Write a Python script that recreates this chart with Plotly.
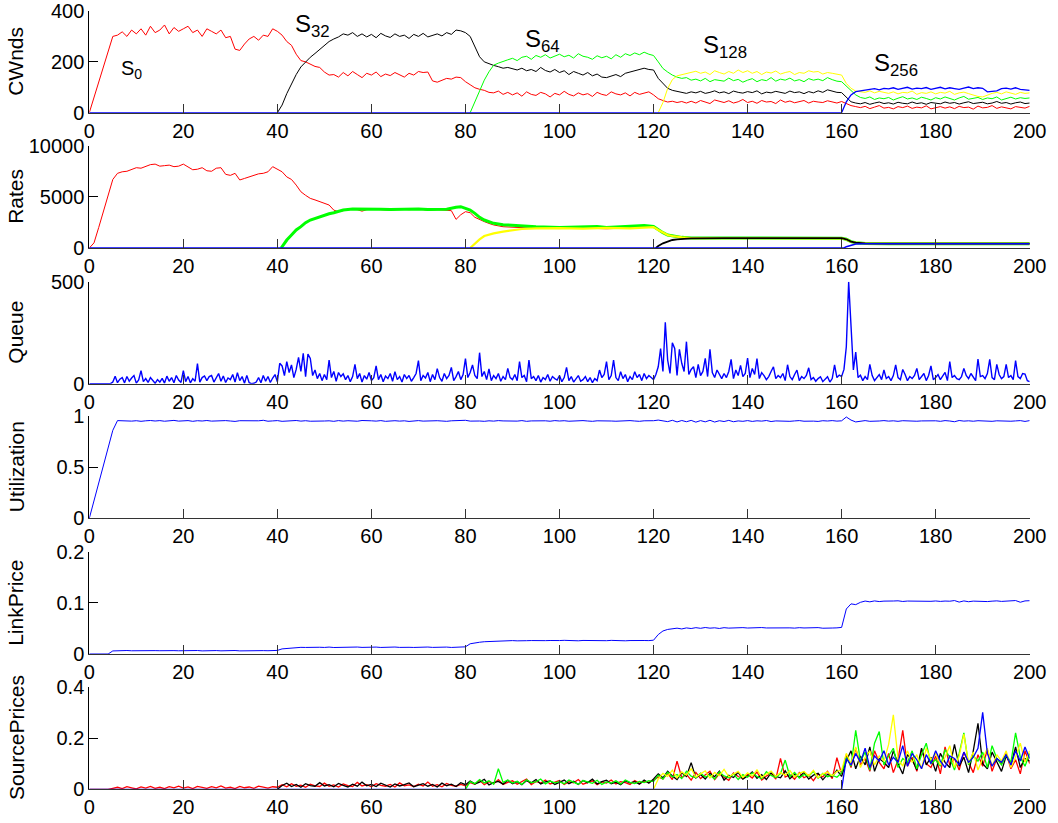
import plotly.graph_objects as go

# ---------------- DATA ----------------
# Panel 1: congestion windows, sampled every 1 s
cwnd_red_start = 0
cwnd_red = [
    0, 60, 120, 180, 240, 300, 305, 318, 300, 325,
    310, 330, 305, 340, 315, 325, 345, 310, 335, 320,
    330, 340, 315, 325, 300, 330, 320, 310, 325, 295,
    300, 250, 245, 270, 290, 300, 285, 305, 300, 330,
    320, 305, 280, 265, 230, 205, 200, 190, 182, 178,
    160, 148, 150, 140, 158, 145, 162, 150, 138, 155,
    148, 160, 142, 152, 146, 158, 150, 140, 155, 148,
    162, 158, 160, 125, 120, 128, 135, 132, 140, 138,
    122, 110, 98, 92, 88, 80, 78, 85, 72, 80,
    70, 78, 65, 82, 72, 68, 80, 74, 62, 76,
    70, 84, 72, 66, 78, 70, 75, 64, 80, 72,
    68, 82, 74, 70, 78, 66, 80, 72, 76, 82,
    70, 55, 48, 42, 45, 40, 44, 38, 45, 38,
    48, 42, 36, 50, 44, 40, 47, 38, 43, 52,
    40, 45, 37, 48, 42, 44, 36, 50, 41, 46,
    39, 44, 48, 38, 45, 42, 40, 47, 43, 38,
    44, 35, 28, 24, 20, 25, 16, 22, 28, 18,
    21, 15, 24, 20, 26, 17, 22, 19, 27, 15,
    21, 24, 18, 23, 16, 25, 20, 22, 14, 26,
    19, 21, 28, 17, 23, 20, 15, 24, 22, 18,
    25,
]
cwnd_black_start = 40
cwnd_black = [
    0, 30, 75, 115, 150, 180, 200, 218, 233, 250,
    265, 280, 290, 298, 310, 305, 315, 300, 310, 298,
    308, 295, 312, 302, 296, 310, 300, 305, 292, 308,
    300, 312, 298, 305, 310, 302, 315, 308, 325, 322,
    315, 300, 260, 220, 200, 192, 186, 181, 175, 178,
    172, 168, 175, 165, 170, 162, 178, 166, 160, 170,
    158, 165, 150, 162, 155, 148, 158, 145, 152, 140,
    138, 145, 150, 142, 155, 160, 165, 172, 175, 170,
    168, 135, 115, 96, 88, 83, 80, 76, 82, 78,
    84, 76, 80, 86, 78, 82, 75, 85, 80, 77,
    83, 79, 86, 74, 81, 78, 84, 80, 76, 85,
    79, 82, 75, 83, 78, 86, 80, 90, 84, 80,
    79, 60, 43, 38, 35, 40, 33, 38, 42, 36,
    39, 34, 41, 37, 35, 42, 36, 39, 33, 40,
    38, 35, 42, 37, 40, 34, 39, 43, 36, 38,
    41, 35, 38, 44, 37, 40, 34, 39, 42, 36,
    38,
]
cwnd_green_start = 81
cwnd_green = [
    0, 45, 89, 128, 161, 187, 195, 200, 208,
    214, 205, 218, 222, 210, 225, 218, 228, 215, 222,
    230, 220, 226, 215, 232, 222, 218, 210, 224, 216,
    222, 212, 228, 218, 232, 225, 235, 228, 238, 230,
    225, 200, 174, 160, 148, 140, 135, 138, 128, 132,
    125, 135, 122, 130, 128, 124, 136, 126, 131, 120,
    128, 134, 122, 130, 126, 138, 124, 132, 128, 136,
    125, 130, 122, 134, 128, 132, 126, 138, 130, 124,
    122, 105, 89, 70, 60, 56, 62, 52, 58, 55,
    60, 50, 57, 63, 54, 58, 52, 61, 56, 50,
    59, 54, 62, 55, 50, 58, 64, 53, 57, 60,
    52, 58, 55, 62, 50, 57, 61, 54, 59, 56,
    58,
]
cwnd_yellow_start = 121
cwnd_yellow = [
    0, 40, 95, 130, 145, 150, 155, 158, 163,
    155, 160, 150, 165, 158, 152, 162, 155, 168, 158,
    165, 155, 162, 150, 160, 156, 164, 152, 158, 162,
    150, 158, 155, 165, 160, 162, 152, 158, 155, 150,
    148, 115, 96, 85, 82, 80, 86, 78, 84, 80,
    76, 82, 74, 80, 78, 85, 72, 79, 76, 82,
    74, 80, 77, 84, 72, 78, 81, 75, 68, 64,
    62, 70, 76, 80, 74, 82, 78, 72, 80, 76,
    78,
]
cwnd_blue_start = 0
cwnd_blue = [0] * 161 + [
    43, 70, 83, 86, 89, 92, 95, 90, 96,
    94, 98, 92, 96, 100, 93, 97, 95, 99, 92,
    96, 100, 94, 98, 95, 92, 97, 101, 95, 98,
    96, 82, 84, 86, 95, 97, 93, 98, 92, 90,
    88,
]

# Panel 2: rates (breakpoints)
rate_red_t = [0, 1, 2, 3, 4, 5, 6, 7, 8, 9, 10, 11, 12, 13, 14, 15, 16, 17, 18, 19, 20,
              21, 22, 23, 24, 25, 26, 27, 28, 29, 30, 31, 32, 33, 34, 35, 36, 37, 38, 39, 40,
              41, 42, 43, 44, 45, 46, 47, 48, 49, 50, 51, 52, 53, 54, 55, 56, 57, 58, 59, 60,
              62, 64, 66, 68, 70, 72, 74, 76, 77, 78, 79, 80, 81, 82, 83, 84, 85, 86, 88, 90,
              92, 95, 100, 105, 110, 115, 118, 120, 121, 122, 123, 124, 125, 126, 128, 135,
              140, 145, 150, 155, 160, 161, 162, 163, 165, 170, 180, 190, 200]
rate_red = [0, 500, 2000, 3600, 5200, 6700, 7300, 7450, 7500, 7650, 7850, 7800, 7950, 8150,
            8200, 8000, 8050, 8100, 7950, 8000, 8200, 7950, 7650, 7700, 7850, 7550, 7500, 7800,
            7850, 7200, 7100, 7300, 6650, 6800, 6950, 7100, 7250, 7300, 7450, 7950, 7700, 7450,
            6950, 6700, 6150, 5500, 5150, 4850, 4700, 4550, 4400, 4200, 3700, 3550, 3650, 3750,
            3800, 3750, 3600, 3750, 3800, 3750, 3700, 3800, 3750, 3800, 3700, 3750, 3700, 3650,
            2800, 3250, 3550, 3450, 3000, 2750, 2580, 2400, 2250, 2080, 2020, 1950, 1920, 1900,
            1950, 1880, 1950, 2000, 2050, 1780, 1480, 1250, 1150, 1080, 1020, 960, 940, 950,
            930, 960, 950, 940, 850, 620, 510, 450, 430, 420, 430, 420]
rate_green_t = [40.8, 42, 43, 44, 45, 46, 47, 48, 49, 50, 51, 52, 53, 54, 56, 58, 60, 62, 64,
                66, 68, 70, 72, 74, 76, 78, 79, 80, 81, 82, 83, 84, 85, 86, 88, 90, 92, 95,
                100, 105, 108, 110, 115, 118, 120, 121, 122, 123, 124, 125, 126, 128, 135,
                140, 145, 150, 155, 160, 161, 162, 163, 165, 170, 180, 190, 200]
rate_green = [0, 780, 1270, 1760, 2085, 2475, 2736, 2900, 3050, 3225, 3350, 3450, 3600, 3713,
              3811, 3820, 3780, 3800, 3760, 3790, 3750, 3820, 3760, 3790, 3800, 3974, 4039,
              3876, 3713, 3388, 2997, 2736, 2573, 2410, 2280, 2215, 2150, 2085, 2000, 2050,
              2100, 2000, 2100, 2200, 2100, 1780, 1500, 1270, 1170, 1100, 1040, 980, 960, 970,
              950, 960, 970, 950, 850, 620, 520, 450, 425, 420, 430, 425]
rate_yellow_t = [81, 82, 83, 84, 86, 88, 90, 92, 95, 100, 105, 110, 115, 118, 120, 121, 122,
                 123, 124, 125, 126, 128, 135, 140, 145, 150, 155, 160, 161, 162, 163, 165,
                 170, 180, 190, 200]
rate_yellow = [0, 456, 847, 1173, 1433, 1596, 1760, 1857, 1920, 1950, 1900, 1960, 1920, 2000,
               2050, 1760, 1500, 1270, 1170, 1100, 1040, 970, 950, 960, 940, 950, 960, 945,
               840, 610, 520, 450, 425, 420, 425, 420]
rate_black_t = [120.5, 121, 122, 123, 124, 125, 126, 128, 135, 140, 145, 150, 155, 160, 161,
                162, 163, 165, 170, 180, 190, 200]
rate_black = [0, 195, 456, 651, 782, 847, 879, 945, 960, 975, 960, 980, 990, 960, 850, 620,
              520, 455, 430, 425, 440, 430]
rate_blue_t = [0, 160.5, 161, 162, 163, 165, 170, 180, 188, 190, 192, 200]
rate_blue = [0, 0, 130, 293, 390, 423, 425, 420, 400, 380, 410, 423]

# Panel 3: queue, sampled every 0.5 s
queue_dt = 0.5
queue = [
    0, 0, 0, 0, 0, 0, 0, 0, 2, 0,
    8, 37, 5, 22, 30, 4, 35, 12, 28, 40,
    3, 18, 64, 10, 25, 6, 30, 14, 2, 20,
    8, 26, 3, 37, 12, 30, 5, 40, 18, 6,
    64, 10, 35, 4, 25, 12, 98, 8, 30, 38,
    15, 35, 40, 8, 30, 50, 12, 38, 6, 28,
    20, 45, 8, 54, 15, 35, 2, 41, 5, 0,
    2, 8, 30, 5, 40, 12, 35, 6, 28, 45,
    10, 100, 87, 40, 108, 55, 92, 30, 70, 129,
    60, 149, 35, 145, 124, 40, 67, 25, 50, 15,
    45, 20, 116, 30, 60, 12, 55, 35, 48, 20,
    40, 10, 35, 95, 25, 50, 8, 40, 22, 55,
    15, 30, 87, 20, 45, 10, 38, 25, 50, 12,
    59, 20, 35, 8, 45, 25, 40, 12, 30, 50,
    113, 15, 40, 28, 55, 10, 45, 20, 74, 30,
    12, 50, 25, 40, 80, 15, 35, 60, 20, 45,
    123, 30, 55, 92, 40, 25, 152, 35, 60, 20,
    72, 15, 40, 25, 50, 12, 35, 20, 75, 30,
    20, 45, 15, 108, 30, 40, 10, 116, 25, 35,
    15, 40, 8, 30, 20, 45, 12, 35, 25, 18,
    40, 10, 30, 80, 15, 35, 8, 25, 40, 12,
    20, 35, 10, 30, 5, 25, 15, 67, 30, 45,
    108, 20, 40, 116, 30, 15, 59, 25, 45, 10,
    35, 20, 59, 30, 45, 15, 50, 25, 40, 30,
    20, 45, 83, 172, 60, 301, 116, 50, 201, 173,
    40, 168, 100, 60, 206, 45, 70, 83, 30, 95,
    40, 60, 124, 35, 168, 55, 30, 67, 45, 25,
    50, 30, 60, 119, 25, 67, 40, 90, 35, 50,
    126, 30, 75, 45, 123, 25, 54, 40, 20, 35,
    60, 83, 25, 40, 30, 50, 15, 93, 35, 20,
    45, 67, 15, 35, 25, 40, 78, 20, 30, 12,
    25, 34, 10, 20, 34, 8, 25, 92, 30, 42,
    35, 70, 181, 500, 266, 67, 155, 30, 42, 15,
    35, 20, 95, 40, 15, 30, 45, 20, 67, 25,
    35, 15, 40, 92, 30, 20, 70, 45, 15, 35,
    25, 40, 75, 20, 35, 50, 15, 40, 87, 20,
    30, 45, 20, 35, 55, 15, 108, 30, 40, 25,
    20, 35, 75, 40, 25, 50, 30, 15, 121, 35,
    40, 25, 50, 119, 30, 20, 95, 45, 25, 35,
    95, 30, 40, 20, 113, 35, 25, 50, 47, 15,
    10,
]

# Panel 4: utilization, every 1 s
utilization = [
    0, 0.17, 0.34, 0.52, 0.69, 0.86, 0.955, 0.952, 0.956, 0.950,
    0.954, 0.948, 0.953, 0.956, 0.951, 0.955, 0.949, 0.953, 0.957, 0.950,
    0.952, 0.955, 0.948, 0.954, 0.951, 0.956, 0.950, 0.953, 0.949, 0.955,
    0.951, 0.947, 0.954, 0.952, 0.956, 0.950, 0.953, 0.958, 0.949, 0.952,
    0.955, 0.948, 0.953, 0.951, 0.956, 0.950, 0.954, 0.949, 0.952, 0.955,
    0.951, 0.953, 0.948, 0.955, 0.950, 0.954, 0.952, 0.949, 0.956, 0.951,
    0.953, 0.950, 0.955, 0.948, 0.952, 0.954, 0.950, 0.953, 0.947, 0.952,
    0.955, 0.950, 0.953, 0.949, 0.954, 0.951, 0.948, 0.953, 0.956, 0.952,
    0.958, 0.950, 0.954, 0.951, 0.948, 0.953, 0.950, 0.955, 0.952, 0.949,
    0.953, 0.950, 0.955, 0.948, 0.952, 0.954, 0.950, 0.953, 0.949, 0.955,
    0.951, 0.954, 0.949, 0.953, 0.950, 0.955, 0.951, 0.948, 0.953, 0.950,
    0.954, 0.951, 0.949, 0.953, 0.950, 0.955, 0.951, 0.948, 0.953, 0.952,
    0.954, 0.960, 0.955, 0.945, 0.958, 0.942, 0.956, 0.944, 0.957, 0.940,
    0.955, 0.943, 0.958, 0.941, 0.954, 0.946, 0.957, 0.944, 0.952, 0.948,
    0.955, 0.947, 0.953, 0.950, 0.956, 0.946, 0.952, 0.950, 0.954, 0.948,
    0.952, 0.955, 0.949, 0.953, 0.950, 0.947, 0.954, 0.951, 0.955, 0.950,
    0.953, 0.990, 0.960, 0.942, 0.950, 0.955, 0.948, 0.953, 0.951, 0.955,
    0.950, 0.953, 0.948, 0.954, 0.951, 0.955, 0.949, 0.952, 0.954, 0.950,
    0.953, 0.948, 0.955, 0.951, 0.944, 0.956, 0.950, 0.953, 0.949, 0.954,
    0.951, 0.955, 0.948, 0.953, 0.950, 0.954, 0.949, 0.952, 0.955, 0.947,
    0.955,
]

# Panel 5: link price, every 1 s
link_price = [
    0, 0, 0, 0, 0, 0.006, 0.0065, 0.006, 0.0068, 0.0063,
    0.0066, 0.006, 0.0067, 0.0062, 0.0066, 0.0064, 0.0068, 0.0061, 0.0066, 0.0063,
    0.0067, 0.0062, 0.0065, 0.0068, 0.0061, 0.0066, 0.0063, 0.0067, 0.0062, 0.0066,
    0.0064, 0.0068, 0.0061, 0.0065, 0.0063, 0.0067, 0.0062, 0.0066, 0.0064, 0.0068,
    0.007, 0.010, 0.011, 0.012, 0.0125, 0.013, 0.0128, 0.0133, 0.0126, 0.0132,
    0.0128, 0.0135, 0.0127, 0.0131, 0.0134, 0.0128, 0.0132, 0.0136, 0.0129, 0.0133,
    0.0131, 0.0135, 0.0128, 0.0133, 0.013, 0.0136, 0.0129, 0.0134, 0.0131, 0.0128,
    0.0134, 0.013, 0.0136, 0.0129, 0.0133, 0.0131, 0.0135, 0.0128, 0.0133, 0.0131,
    0.014, 0.020, 0.022, 0.023, 0.024, 0.0245, 0.025, 0.0255, 0.026, 0.0258,
    0.0262, 0.0257, 0.0265, 0.026, 0.0263, 0.0258, 0.0266, 0.0261, 0.0264, 0.0259,
    0.0263, 0.0267, 0.026, 0.0264, 0.0258, 0.0265, 0.0261, 0.0266, 0.0259, 0.0263,
    0.026, 0.0266, 0.0261, 0.0264, 0.0258, 0.0263, 0.0267, 0.026, 0.0264, 0.0262,
    0.027, 0.038, 0.045, 0.048, 0.0495, 0.0505, 0.049, 0.051, 0.0498, 0.0515,
    0.0502, 0.0518, 0.0505, 0.0512, 0.0499, 0.0515, 0.0506, 0.0511, 0.0502, 0.0516,
    0.0508, 0.0513, 0.0504, 0.0517, 0.0509, 0.0512, 0.0505, 0.0514, 0.0508, 0.0511,
    0.0506, 0.0515, 0.0509, 0.0512, 0.0507, 0.0516, 0.0504, 0.0513, 0.0508, 0.0511,
    0.052, 0.088, 0.098, 0.0965, 0.101, 0.1035, 0.102, 0.1038, 0.1025, 0.1034,
    0.1028, 0.1036, 0.104, 0.1027, 0.1035, 0.1031, 0.1039, 0.1026, 0.1034, 0.103,
    0.1037, 0.1028, 0.1035, 0.1032, 0.1045, 0.1015, 0.1038, 0.1022, 0.1034, 0.1029,
    0.1036, 0.1025, 0.1033, 0.1039, 0.1028, 0.1035, 0.1031, 0.1045, 0.1012, 0.1038,
    0.1042,
]

# Panel 6: source prices, every 1 s
sp_red_start = 0
sp_red = [
    0, 0, 0, 0, 0, 0.004, 0.008, 0.003, 0.010, 0.006,
    0.002, 0.009, 0.005, 0.011, 0.004, 0.008, 0.003, 0.010, 0.006, 0.012,
    0.005, 0.009, 0.003, 0.011, 0.007, 0.004, 0.010, 0.006, 0.013, 0.005,
    0.008, 0.003, 0.011, 0.006, 0.009, 0.004, 0.012, 0.007, 0.005, 0.010,
    0.008, 0.018, 0.010, 0.022, 0.012, 0.016, 0.008, 0.020, 0.013, 0.011,
    0.024, 0.012, 0.017, 0.009, 0.021, 0.014, 0.011, 0.027, 0.013, 0.018,
    0.010, 0.022, 0.015, 0.012, 0.019, 0.009, 0.025, 0.014, 0.017, 0.011,
    0.020, 0.013, 0.028, 0.012, 0.018, 0.010, 0.023, 0.015, 0.012, 0.019,
    0.014, 0.026, 0.020, 0.035, 0.018, 0.030, 0.022, 0.038, 0.019, 0.027,
    0.033, 0.020, 0.029, 0.040, 0.018, 0.031, 0.024, 0.036, 0.021, 0.028,
    0.034, 0.019, 0.030, 0.025, 0.038, 0.020, 0.027, 0.033, 0.018, 0.029,
    0.024, 0.036, 0.021, 0.030, 0.026, 0.019, 0.034, 0.023, 0.031, 0.027,
    0.035, 0.048, 0.040, 0.062, 0.038, 0.110, 0.045, 0.058, 0.036, 0.066,
    0.042, 0.055, 0.070, 0.038, 0.060, 0.047, 0.035, 0.064, 0.050, 0.041,
    0.058, 0.044, 0.068, 0.036, 0.052, 0.062, 0.040, 0.120, 0.048, 0.057,
    0.039, 0.065, 0.045, 0.055, 0.034, 0.060, 0.048, 0.070, 0.042, 0.123,
    0.060, 0.135, 0.085, 0.160, 0.095, 0.120, 0.070, 0.150, 0.105, 0.080,
    0.140, 0.065, 0.115, 0.230, 0.090, 0.125, 0.070, 0.155, 0.100, 0.085,
    0.130, 0.060, 0.165, 0.095, 0.120, 0.075, 0.145, 0.105, 0.065, 0.135,
    0.090, 0.155, 0.070, 0.120, 0.100, 0.140, 0.080, 0.115, 0.060, 0.150,
    0.100,
]
sp_black_start = 40
sp_black = [
    0.000, 0.015, 0.024, 0.011, 0.019, 0.008, 0.022, 0.014, 0.012, 0.026,
    0.013, 0.018, 0.010, 0.023, 0.015, 0.009, 0.020, 0.012, 0.028, 0.014,
    0.019, 0.011, 0.024, 0.016, 0.009, 0.021, 0.013, 0.018, 0.025, 0.010,
    0.016, 0.022, 0.012, 0.019, 0.009, 0.024, 0.014, 0.020, 0.011, 0.026,
    0.018, 0.032, 0.021, 0.028, 0.039, 0.017, 0.026, 0.031, 0.020, 0.035,
    0.022, 0.030, 0.018, 0.034, 0.025, 0.038, 0.021, 0.029, 0.033, 0.019,
    0.027, 0.036, 0.022, 0.031, 0.019, 0.034, 0.026, 0.040, 0.021, 0.030,
    0.035, 0.022, 0.028, 0.018, 0.033, 0.025, 0.030, 0.020, 0.036, 0.024,
    0.040, 0.060, 0.045, 0.070, 0.052, 0.038, 0.065, 0.050, 0.104, 0.044,
    0.058, 0.040, 0.062, 0.049, 0.071, 0.036, 0.055, 0.046, 0.066, 0.040,
    0.052, 0.068, 0.043, 0.057, 0.038, 0.064, 0.050, 0.045, 0.072, 0.041,
    0.059, 0.047, 0.066, 0.040, 0.055, 0.062, 0.037, 0.058, 0.049, 0.075,
    0.050, 0.110, 0.150, 0.080, 0.130, 0.095, 0.165, 0.070, 0.120, 0.105,
    0.085, 0.150, 0.100, 0.060, 0.135, 0.115, 0.075, 0.160, 0.095, 0.125,
    0.070, 0.140, 0.105, 0.085, 0.175, 0.090, 0.125, 0.065, 0.150, 0.257,
    0.100, 0.080, 0.145, 0.110, 0.070, 0.130, 0.095, 0.165, 0.085, 0.120,
    0.110,
]
sp_green_start = 80
sp_green = [
    0.000, 0.030, 0.022, 0.038, 0.025, 0.033, 0.020, 0.080, 0.027, 0.036,
    0.024, 0.031, 0.019, 0.037, 0.026, 0.029, 0.040, 0.021, 0.032, 0.025,
    0.030, 0.022, 0.036, 0.027, 0.020, 0.034, 0.028, 0.023, 0.035, 0.019,
    0.029, 0.024, 0.033, 0.021, 0.036, 0.027, 0.022, 0.031, 0.026, 0.034,
    0.030, 0.055, 0.040, 0.066, 0.048, 0.058, 0.042, 0.070, 0.051, 0.045,
    0.063, 0.048, 0.055, 0.040, 0.068, 0.052, 0.045, 0.060, 0.038, 0.057,
    0.047, 0.064, 0.050, 0.041, 0.069, 0.054, 0.046, 0.061, 0.114, 0.050,
    0.066, 0.044, 0.058, 0.051, 0.070, 0.043, 0.062, 0.049, 0.055, 0.047,
    0.065, 0.125, 0.090, 0.230, 0.110, 0.145, 0.075, 0.180, 0.225, 0.095,
    0.130, 0.160, 0.085, 0.120, 0.105, 0.150, 0.080, 0.135, 0.180, 0.100,
    0.115, 0.090, 0.155, 0.125, 0.075, 0.140, 0.220, 0.095, 0.130, 0.110,
    0.145, 0.085, 0.170, 0.120, 0.095, 0.135, 0.105, 0.220, 0.125, 0.090,
    0.140,
]
sp_yellow_start = 120
sp_yellow = [
    0.000, 0.040, 0.062, 0.050, 0.075, 0.045, 0.068, 0.055, 0.080, 0.048,
    0.060, 0.072, 0.044, 0.066, 0.053, 0.078, 0.049, 0.061, 0.070, 0.046,
    0.064, 0.052, 0.076, 0.047, 0.059, 0.071, 0.050, 0.065, 0.055, 0.073,
    0.048, 0.062, 0.069, 0.053, 0.074, 0.045, 0.060, 0.067, 0.052, 0.070,
    0.075, 0.140, 0.100, 0.165, 0.085, 0.125, 0.150, 0.095, 0.130, 0.110,
    0.175, 0.290, 0.120, 0.090, 0.150, 0.105, 0.135, 0.080, 0.160, 0.115,
    0.140, 0.095, 0.125, 0.170, 0.085, 0.130, 0.215, 0.100, 0.145, 0.075,
    0.120, 0.160, 0.090, 0.135, 0.110, 0.150, 0.085, 0.125, 0.180, 0.105,
    0.150,
]
sp_blue_start = 0
sp_blue = [0] * 161 + [
    0.120, 0.095, 0.140, 0.105, 0.160, 0.085, 0.130, 0.110, 0.150,
    0.095, 0.125, 0.105, 0.170, 0.090, 0.140, 0.115, 0.080, 0.135, 0.100,
    0.150, 0.110, 0.085, 0.130, 0.120, 0.095, 0.145, 0.105, 0.125, 0.160,
    0.300, 0.140, 0.090, 0.120, 0.105, 0.135, 0.095, 0.150, 0.110, 0.165,
    0.120,
]

x_ticks = [0, 20, 40, 60, 80, 100, 120, 140, 160, 180, 200]
panel_titles = ["CWnds", "Rates", "Queue", "Utilization", "LinkPrice", "SourcePrices"]
panel_ranges = [[0, 400], [0, 10000], [0, 500], [0, 1], [0, 0.2], [0, 0.4]]
panel_ticks = [[0, 200, 400], [0, 5000, 10000], [0, 500], [0, 0.5, 1], [0, 0.1, 0.2], [0, 0.2, 0.4]]
panel_ticktext = [["0", "200", "400"], ["0", "5000", "10000"], ["0", "500"],
                  ["0", "0.5", "1"], ["0", "0.1", "0.2"], ["0", "0.2", "0.4"]]
flow_labels = ["S<sub>0</sub>", "S<sub>32</sub>", "S<sub>64</sub>", "S<sub>128</sub>", "S<sub>256</sub>"]
flow_label_x = [6.3, 43.3, 92.3, 130.0, 166.5]
flow_label_top_px = [55, 7.5, 23.3, 29, 47.3]
flow_label_size = [20, 24, 24, 24, 24]

# ---------------- FIGURE ----------------
RED, BLACK, GREEN, YELLOW, BLUE = "#ff0000", "#000000", "#00ff00", "#ffff00", "#0000ff"
FONT = "Liberation Sans, Arial, Helvetica, sans-serif"
W, H = 1058, 823
panel_px = [(11, 112.7), (145.7, 248), (281.7, 383.7), (416, 518.3), (551.7, 654), (686.7, 789.3)]
x_dom = [89.3 / W, 1029.7 / W]

fig = go.Figure()


def add(x, y, color, panel, width=1.0):
    sfx = "" if panel == 1 else str(panel)
    fig.add_trace(go.Scatter(x=x, y=y, mode="lines", line=dict(color=color, width=width),
                             xaxis="x" + sfx, yaxis="y" + sfx, showlegend=False,
                             hoverinfo="skip"))


def xs(start, vals, dt=1.0):
    return [start + i * dt for i in range(len(vals))]


# Panel 1
add(xs(cwnd_red_start, cwnd_red), cwnd_red, RED, 1)
add(xs(cwnd_black_start, cwnd_black), cwnd_black, BLACK, 1)
add(xs(cwnd_green_start, cwnd_green), cwnd_green, GREEN, 1)
add(xs(cwnd_yellow_start, cwnd_yellow), cwnd_yellow, YELLOW, 1)
add(xs(cwnd_blue_start, cwnd_blue), cwnd_blue, BLUE, 1, 1.3)
# Panel 2
add(rate_red_t, rate_red, RED, 2)
add(rate_green_t, rate_green, GREEN, 2, 3)
add(rate_yellow_t, rate_yellow, YELLOW, 2, 2.2)
add(rate_black_t, rate_black, BLACK, 2, 1.8)
add(rate_blue_t, rate_blue, BLUE, 2, 1.5)
# Panel 3
add(xs(0, queue, queue_dt), queue, BLUE, 3, 1.4)
# Panel 4
add(xs(0, utilization), utilization, BLUE, 4)
# Panel 5
add(xs(0, link_price), link_price, BLUE, 5)
# Panel 6
add(xs(sp_red_start, sp_red), sp_red, RED, 6, 1.3)
add(xs(sp_black_start, sp_black), sp_black, BLACK, 6, 1.3)
add(xs(sp_green_start, sp_green), sp_green, GREEN, 6, 1.3)
add(xs(sp_yellow_start, sp_yellow), sp_yellow, YELLOW, 6, 1.3)
add(xs(sp_blue_start, sp_blue), sp_blue, BLUE, 6, 1.3)

layout = dict(width=W, height=H, margin=dict(l=0, r=0, t=0, b=0, autoexpand=False),
              paper_bgcolor="white", plot_bgcolor="white",
              font=dict(family=FONT, size=20, color="black"), annotations=[])

for i in range(6):
    sfx = "" if i == 0 else str(i + 1)
    top, bot = panel_px[i]
    ydom = [1 - bot / H, 1 - top / H]
    layout["xaxis" + sfx] = dict(domain=x_dom, range=[0, 200], tickvals=x_ticks,
                                 ticktext=[str(v) for v in x_ticks],
                                 ticks="inside", ticklen=9, tickwidth=1, tickcolor="#333333",
                                 showline=True, linecolor="#333333", linewidth=1,
                                 showgrid=False, zeroline=False, mirror=False,
                                 anchor="y" + sfx, ticklabelstandoff=0, automargin=False,
                                 ticklabeloverflow="allow",
                                 tickfont=dict(family=FONT, size=20, color="black"))
    layout["yaxis" + sfx] = dict(domain=ydom, range=panel_ranges[i], tickvals=panel_ticks[i],
                                 ticktext=panel_ticktext[i],
                                 ticks="inside", ticklen=9, tickwidth=1, tickcolor="black",
                                 showline=True, linecolor="black", linewidth=1,
                                 showgrid=False, zeroline=False, mirror=False,
                                 anchor="x" + sfx, ticklabelstandoff=0, automargin=False,
                                 ticklabeloverflow="allow",
                                 tickfont=dict(family=FONT, size=20, color="black"))
    layout["annotations"].append(dict(text=panel_titles[i], xref="paper", yref="paper",
                                      x=16 / W, y=1 - ((top + bot) / 2) / H,
                                      textangle=-90,
                                      showarrow=False, xanchor="center", yanchor="middle",
                                      font=dict(family=FONT, size=21, color="black")))

for lbl, lx, ltop, ls in zip(flow_labels, flow_label_x, flow_label_top_px, flow_label_size):
    layout["annotations"].append(dict(text=lbl, xref="x", yref="paper", x=lx, y=1 - ltop / H,
                                      showarrow=False, xanchor="left", yanchor="top",
                                      font=dict(family=FONT, size=ls, color="black")))

fig.update_layout(**layout)
fig.write_html("out.html", config={"displayModeBar": False},
               post_script="document.body.style.margin='0px';document.body.style.overflow='hidden';")
